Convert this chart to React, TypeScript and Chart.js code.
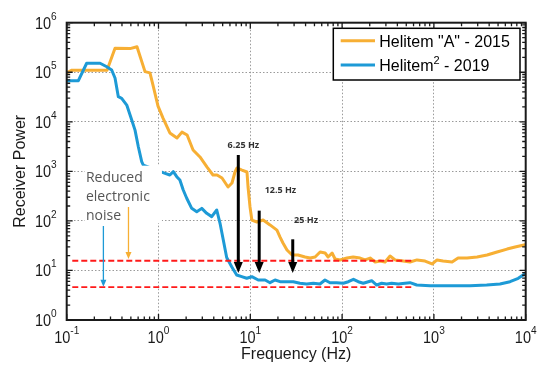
import React, { useEffect, useRef } from "react";
import { Chart, registerables } from "chart.js";

Chart.register(...registerables);

// ---------- data ----------
const orangeFreq = [0.1, 0.114, 0.275, 0.336, 0.49, 0.583, 0.713, 0.807, 0.871, 0.988, 1.12, 1.33, 1.59, 1.8, 2.05, 2.38, 2.83, 3.38, 3.92, 4.34, 4.92, 5.72, 6.32, 6.81, 7.16, 8.12, 9.2, 9.45, 9.93, 10.4, 11.8, 13.8, 16.4, 19.5, 21.1, 22.7, 25.1, 28.5, 33.1, 39.5, 44.8, 50.8, 57.6, 65.3, 70.4, 77.8, 83.9, 95.1, 113, 132, 157, 178, 202, 229, 259, 294, 333, 378, 462, 550, 655, 801, 955, 1082, 1259, 1578, 1834, 2297, 2952, 3795, 4878, 6271, 7663, 9840, 10000];
const orangePower = [9.7e4, 1.1e5, 1.1e5, 3.04e5, 3.0e5, 3.28e5, 1.03e5, 9.7e4, 5.5e4, 2.07e4, 1.19e4, 5950, 4700, 6200, 5400, 2700, 1950, 1220, 844, 844, 734, 483, 582, 970, 1170, 1060, 970, 483, 191, 104, 95, 104, 83, 65, 47, 35.8, 25.9, 20.5, 20.5, 18.7, 17.8, 18.7, 23.6, 22.5, 18.7, 22.5, 17.0, 16.3, 17.8, 18.7, 17.8, 16.3, 17.8, 14.8, 15.5, 14.8, 19.6, 16.3, 15.5, 14.8, 16.3, 15.5, 13.5, 16.3, 15.5, 14.8, 17.8, 17.8, 18.7, 20.5, 23.6, 27.0, 29.7, 33, 34];

const blueFreq = [0.1, 0.134, 0.165, 0.231, 0.273, 0.309, 0.336, 0.365, 0.397, 0.451, 0.511, 0.555, 0.603, 0.656, 0.683, 1.18, 1.33, 1.45, 1.58, 1.71, 1.86, 2.03, 2.3, 2.61, 2.96, 3.35, 3.8, 4.31, 4.68, 5.08, 5.53, 6.27, 7.11, 8.06, 9.14, 10.4, 12.2, 14.5, 16.4, 18.6, 21.1, 24.9, 29.4, 34.7, 41.1, 48.6, 57.4, 65.1, 73.8, 87.3, 103, 117, 133, 150, 170, 193, 210, 238, 270, 306, 347, 410, 484, 549, 650, 907, 1497, 2473, 3758, 5250, 6745, 8300, 10000];
const bluePower = [6.75e4, 6.75e4, 1.52e5, 1.52e5, 1.29e5, 1.11e5, 7.66e4, 3.21e4, 2.98e4, 2.18e4, 1.09e4, 6800, 3140, 1570, 1340, 914, 844, 984, 780, 668, 421, 286, 179, 153, 179, 142, 122, 166, 89.5, 41.2, 18.2, 11.9, 8.09, 7.48, 6.95, 7.48, 6.41, 6.41, 5.66, 6.41, 5.93, 5.93, 5.93, 5.51, 5.33, 5.51, 5.33, 6.41, 5.66, 5.66, 5.51, 5.93, 6.63, 5.93, 5.51, 5.93, 6.21, 5.08, 5.51, 5.33, 5.51, 5.33, 5.51, 5.66, 5.08, 4.92, 4.92, 4.92, 5.08, 5.33, 5.93, 6.95, 8.75];

const xTickValues = [0.1, 1, 10, 100, 1000, 10000];
const xTickExponents = ["-1", "0", "1", "2", "3", "4"];
const yTickValues = [1, 10, 100, 1000, 10000, 100000, 1000000];
const yTickExponents = ["0", "1", "2", "3", "4", "5", "6"];

const xTitle = "Frequency (Hz)";
const yTitle = "Receiver Power";

const legendLabelA = 'Helitem "A" - 2015';
const legendLabelB = ["Helitem", "2", " - 2019"]; // base, superscript, rest

// noise floor reference lines
const noiseLevels = [15.7, 4.6];
const noiseLineFreq = [0.115, 590];

// "Reduced electronic noise" note
const noteLines = ["Reduced", "electronic", "noise"];
const noteBoxFreq = [0.158, 1.09];
const noteBoxPower = [1300, 90.7];
const noiseArrowFreq = [0.471, 0.251];
const noiseArrowTop = [191, 79];
const noiseArrowTip = [17, 4.7];

// harmonic markers
const harmonicLabels = ["6.25 Hz", "12.5 Hz", "25 Hz"];
const harmonicLabelFreq = [8.4, 21.3, 40.5];
const harmonicLabelPower = [3400, 407, 101];
const harmonicArrowFreq = [7.4, 12.5, 29];
const harmonicArrowTop = [2140, 161, 42.5];
const harmonicArrowTip = 8.9;

// ---------- styles ----------
const ORANGE = "#F7AF34";
const BLUE = "#1D9AD6";
const FONT = "'Liberation Sans', Arial, sans-serif";
const NOTE_FONT = "'Open Sans', 'Noto Sans', sans-serif";

function drawArrow(ctx: CanvasRenderingContext2D, x: number, y0: number, y1: number, color: string, lw: number, hw: number, hl: number) {
  ctx.save();
  ctx.strokeStyle = color;
  ctx.fillStyle = color;
  ctx.lineWidth = lw;
  ctx.setLineDash([]);
  ctx.beginPath();
  ctx.moveTo(x, y0);
  ctx.lineTo(x, y1 - hl + 1);
  ctx.stroke();
  ctx.beginPath();
  ctx.moveTo(x - hw / 2, y1 - hl);
  ctx.lineTo(x + hw / 2, y1 - hl);
  ctx.lineTo(x, y1);
  ctx.closePath();
  ctx.fill();
  ctx.restore();
}

function drawPow(ctx: CanvasRenderingContext2D, base: string, exp: string, x: number, baseline: number, align: "center" | "right", baseSize: number, supSize: number, raise: number, squeeze: number) {
  ctx.save();
  ctx.font = `${baseSize}px ${FONT}`;
  const wb = ctx.measureText(base).width;
  ctx.font = `${supSize}px ${FONT}`;
  const ws = ctx.measureText(exp).width;
  const total = (wb + ws) * squeeze;
  const left = align === "center" ? x - total / 2 : x - total;
  ctx.translate(left, baseline);
  ctx.scale(squeeze, 1);
  ctx.textAlign = "left";
  ctx.textBaseline = "alphabetic";
  ctx.fillStyle = "#1a1a1a";
  ctx.font = `${baseSize}px ${FONT}`;
  ctx.fillText(base, 0, 0);
  ctx.font = `${supSize}px ${FONT}`;
  ctx.fillText(exp, wb, -raise);
  ctx.restore();
}

const overlayPlugin = {
  id: "overlay",
  afterDatasetsDraw(chart: any) {
    const { ctx, chartArea: ca } = chart;
    const xs = chart.scales.x;
    const ys = chart.scales.y;
    const px = (f: number) => xs.getPixelForValue(f);
    const py = (v: number) => ys.getPixelForValue(v);

    // note box (white, hides curve and grid)
    const bx0 = px(noteBoxFreq[0]);
    const bx1 = px(noteBoxFreq[1]);
    const by0 = py(noteBoxPower[0]);
    const by1 = py(noteBoxPower[1]);
    ctx.save();
    ctx.fillStyle = "#ffffff";
    ctx.fillRect(bx0, by0, bx1 - bx0, by1 - by0);
    ctx.fillStyle = "#555555";
    ctx.font = `14px ${NOTE_FONT}`;
    ctx.textAlign = "left";
    ctx.textBaseline = "alphabetic";
    noteLines.forEach((t, i) => ctx.fillText(t, bx0 + 1, by0 + 16 + i * 19));
    ctx.restore();

    // noise floor lines
    ctx.save();
    ctx.strokeStyle = "#FF1A1A";
    ctx.lineWidth = 1.8;
    ctx.setLineDash([6, 3]);
    noiseLevels.forEach((lv) => {
      ctx.beginPath();
      ctx.moveTo(px(noiseLineFreq[0]), py(lv));
      ctx.lineTo(px(noiseLineFreq[1]), py(lv));
      ctx.stroke();
    });
    ctx.restore();

    // noise arrows
    const noiseColors = [ORANGE, BLUE];
    noiseArrowFreq.forEach((f, i) => {
      drawArrow(ctx, px(f), py(noiseArrowTop[i]), py(noiseArrowTip[i]), noiseColors[i], 1.3, 6, 7);
    });

    // harmonic arrows
    harmonicArrowFreq.forEach((f, i) => {
      drawArrow(ctx, px(f), py(harmonicArrowTop[i]), py(harmonicArrowTip), "#000000", 3, 9, 11);
    });
    ctx.save();
    ctx.fillStyle = "#333333";
    ctx.font = `bold 9px ${NOTE_FONT}`;
    ctx.textAlign = "center";
    ctx.textBaseline = "middle";
    harmonicLabels.forEach((t, i) => ctx.fillText(t, px(harmonicLabelFreq[i]), py(harmonicLabelPower[i])));
    ctx.restore();

    // legend
    const lx0 = ca.right - 192.4;
    const lx1 = ca.right - 5.7;
    const ly0 = ca.top + 5.6;
    const ly1 = ca.top + 57.3;
    ctx.save();
    ctx.fillStyle = "#ffffff";
    ctx.fillRect(lx0, ly0, lx1 - lx0, ly1 - ly0);
    ctx.strokeStyle = "#000000";
    ctx.lineWidth = 1.5;
    ctx.strokeRect(lx0, ly0, lx1 - lx0, ly1 - ly0);
    const rows = [ly0 + 12.5, ly0 + 36.8];
    const colors = [ORANGE, BLUE];
    rows.forEach((ry, i) => {
      ctx.strokeStyle = colors[i];
      ctx.lineWidth = 3;
      ctx.beginPath();
      ctx.moveTo(lx0 + 7.4, ry);
      ctx.lineTo(lx0 + 41.7, ry);
      ctx.stroke();
    });
    ctx.fillStyle = "#000000";
    ctx.textAlign = "left";
    ctx.textBaseline = "alphabetic";
    ctx.font = `16px ${FONT}`;
    const tx = lx0 + 46;
    ctx.fillText(legendLabelA, tx, rows[0] + 5.8);
    ctx.fillText(legendLabelB[0], tx, rows[1] + 5.8);
    const w0 = ctx.measureText(legendLabelB[0]).width;
    ctx.font = `11px ${FONT}`;
    ctx.fillText(legendLabelB[1], tx + w0, rows[1] - 1.5);
    const w1 = ctx.measureText(legendLabelB[1]).width;
    ctx.font = `16px ${FONT}`;
    ctx.fillText(legendLabelB[2], tx + w0 + w1, rows[1] + 5.8);
    ctx.restore();

    // frame
    ctx.save();
    ctx.strokeStyle = "#1a1a1a";
    ctx.lineWidth = 2;
    ctx.strokeRect(ca.left, ca.top, ca.right - ca.left, ca.bottom - ca.top);

    // ticks (inside, all four sides)
    ctx.lineWidth = 1.3;
    const majorLen = 6;
    const minorLen = 3.5;
    const tick = (vals: number[], isX: boolean, len: number) => {
      vals.forEach((v) => {
        if (isX) {
          const p = px(v);
          if (p < ca.left - 0.5 || p > ca.right + 0.5) return;
          ctx.beginPath();
          ctx.moveTo(p, ca.bottom);
          ctx.lineTo(p, ca.bottom - len);
          ctx.moveTo(p, ca.top);
          ctx.lineTo(p, ca.top + len);
          ctx.stroke();
        } else {
          const p = py(v);
          if (p < ca.top - 0.5 || p > ca.bottom + 0.5) return;
          ctx.beginPath();
          ctx.moveTo(ca.left, p);
          ctx.lineTo(ca.left + len, p);
          ctx.moveTo(ca.right, p);
          ctx.lineTo(ca.right - len, p);
          ctx.stroke();
        }
      });
    };
    const minorOf = (decades: number[]) => {
      const out: number[] = [];
      decades.slice(0, -1).forEach((d) => {
        for (let m = 2; m <= 9; m++) out.push(d * m);
      });
      return out;
    };
    tick(xTickValues, true, majorLen);
    tick(minorOf(xTickValues), true, minorLen);
    tick(yTickValues, false, majorLen);
    tick(minorOf(yTickValues), false, minorLen);
    ctx.restore();

    // tick labels
    xTickValues.forEach((v, i) => {
      drawPow(ctx, "10", xTickExponents[i], px(v), ca.bottom + 23, "center", 16.5, 11.5, 9.5, 0.88);
    });
    yTickValues.forEach((v, i) => {
      drawPow(ctx, "10", yTickExponents[i], ca.left - 10, py(v) + 6, "right", 16.5, 11.5, 9, 0.88);
    });

    // axis titles
    ctx.save();
    ctx.fillStyle = "#1a1a1a";
    ctx.font = `16px ${FONT}`;
    ctx.textAlign = "center";
    ctx.textBaseline = "middle";
    ctx.fillText(xTitle, (ca.left + ca.right) / 2, ca.bottom + 35);
    ctx.translate(21, (ca.top + ca.bottom) / 2);
    ctx.rotate(-Math.PI / 2);
    ctx.fillText(yTitle, 0, 0);
    ctx.restore();
  },
};

export default function App() {
  const ref = useRef<HTMLCanvasElement>(null);
  useEffect(() => {
    document.body.style.margin = "0";
    const canvas = ref.current;
    if (!canvas) return;
    const chart = new Chart(canvas, {
      type: "line",
      data: {
        datasets: [
          {
            label: legendLabelA,
            data: orangeFreq.map((f, i) => ({ x: f, y: orangePower[i] })),
            borderColor: ORANGE,
            backgroundColor: ORANGE,
            borderWidth: 3,
            pointRadius: 0,
            tension: 0,
            fill: false,
            borderJoinStyle: "round",
            order: 1,
          },
          {
            label: legendLabelB.join(""),
            data: blueFreq.map((f, i) => ({ x: f, y: bluePower[i] })),
            borderColor: BLUE,
            backgroundColor: BLUE,
            borderWidth: 3,
            pointRadius: 0,
            tension: 0,
            fill: false,
            borderJoinStyle: "round",
            order: 0,
          },
        ],
      },
      options: {
        animation: false,
        responsive: false,
        maintainAspectRatio: false,
        events: [],
        layout: { padding: { left: 66.7, top: 22.7, right: 14.3, bottom: 47 } },
        plugins: {
          legend: { display: false },
          tooltip: { enabled: false },
          title: { display: false },
        },
        scales: {
          x: {
            type: "logarithmic",
            min: 0.1,
            max: 10000,
            ticks: { display: false },
            grid: { color: "#9a9a9a", lineWidth: 1, drawTicks: false },
            border: { display: false, dash: [1.5, 2] },
            afterBuildTicks: (s: any) => {
              s.ticks = xTickValues.map((v) => ({ value: v }));
            },
            afterFit: (s: any) => {
              s.height = 0;
            },
          },
          y: {
            type: "logarithmic",
            min: 1,
            max: 1000000,
            ticks: { display: false },
            grid: { color: "#9a9a9a", lineWidth: 1, drawTicks: false },
            border: { display: false, dash: [1.5, 2] },
            afterBuildTicks: (s: any) => {
              s.ticks = yTickValues.map((v) => ({ value: v }));
            },
            afterFit: (s: any) => {
              s.width = 0;
            },
          },
        },
      } as any,
      plugins: [overlayPlugin],
    });
    return () => chart.destroy();
  }, []);
  return (
    <div style={{ width: 540, height: 367, background: "#ffffff" }}>
      <canvas ref={ref} width={540} height={367} style={{ display: "block", width: 540, height: 367 }} />
    </div>
  );
}
